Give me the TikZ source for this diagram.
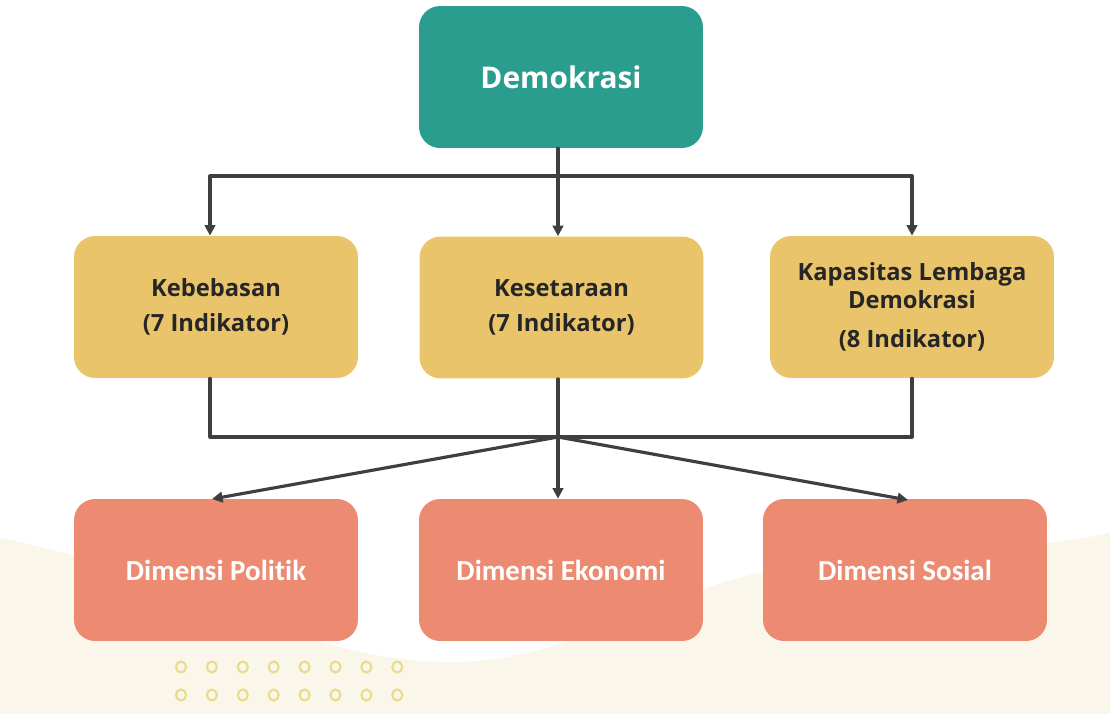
\documentclass[tikz,border=0pt]{standalone}
\usepackage{fontspec}
\setmainfont{Open Sans}
\newfontfamily\calib[Ligatures=NoCommon]{Carlito}
\usetikzlibrary{arrows.meta}
\definecolor{teal}{HTML}{2A9D8F}
\definecolor{sand}{HTML}{E9C46A}
\definecolor{salmon}{HTML}{EC8A72}
\definecolor{cream}{HTML}{FBF6EA}
\definecolor{dotc}{HTML}{E8DC8E}
\definecolor{linec}{HTML}{3F3F3F}
\definecolor{txt}{HTML}{262626}
\tikzset{
  box/.style={rectangle, rounded corners=12pt, minimum width=5.68cm, minimum height=2.84cm, inner sep=0pt, align=center},
  topbox/.style={box, fill=teal, text=white, font=\fontsize{17}{20}\selectfont\bfseries},
  midbox/.style={box, fill=sand, text=txt, font=\fontsize{13.5}{16}\selectfont\bfseries},
  lowbox/.style={box, fill=salmon, text=white, font=\calib\fontsize{16.5}{19}\selectfont\bfseries},
  conn/.style={draw=linec, line width=1.8pt, line cap=round, line join=round},
  arr/.style={conn, -{Triangle[length=6pt,width=6pt]}},
  ring/.style={draw=dotc, line width=1.2pt}
}
\begin{document}
\begin{tikzpicture}[x=0.02cm,y=-0.02cm]
\useasboundingbox (0,0) rectangle (1110,714);
% background decoration
\fill[cream] (0,538) .. controls (180,572) and (300,662) .. (450,662)
  .. controls (570,662) and (650,596) .. (763,572)
  .. controls (900,545) and (1000,556) .. (1110,533) -- (1110,714) -- (0,714) -- cycle;
\foreach \i in {0,...,7}{
  \draw[ring] (181+30.9*\i,667) ellipse (5 and 5.5);
  \draw[ring] (181+30.9*\i,695) ellipse (5 and 5.5);
}
% nodes
\node[topbox] (dem) at (561,77) {Demokrasi};
\node[midbox] (keb) at (216,307) {Kebebasan\\[4pt](7 Indikator)};
\node[midbox] (kes) at (561.5,307.5) {Kesetaraan\\[4pt](7 Indikator)};
\node[midbox] (kap) at (912,307) {Kapasitas Lembaga\\Demokrasi\\[6pt](8 Indikator)};
\node[lowbox] (pol) at (216,570) {Dimensi Politik};
\node[lowbox] (eko) at (561,570) {Dimensi Ekonomi};
\node[lowbox] (sos) at (905,570) {Dimensi Sosial};
% junctions
\coordinate (j1) at (558,176);
\coordinate (a1) at (210,176);
\coordinate (a3) at (912,176);
\coordinate (j2) at (558,437);
\coordinate (b1) at (210,437);
\coordinate (b3) at (912,437);
\coordinate (t1) at (212,499);
\coordinate (t3) at (908,500);
% top connectors
\draw[conn] (dem.south -| j1) -- (j1);
\draw[conn] (a1) -- (a3);
\draw[arr] (a1) -- (a1 |- keb.north);
\draw[arr] (j1) -- (j1 |- kes.north);
\draw[arr] (a3) -- (a3 |- kap.north);
% middle connectors
\draw[conn] (b1 |- keb.south) -- (b1) -- (b3) -- (b3 |- kap.south);
\draw[conn] (j2 |- kes.south) -- (j2);
% bottom arrows
\draw[arr] (j2) -- (t1);
\draw[arr] (j2) -- (j2 |- eko.north);
\draw[arr] (j2) -- (t3);
\end{tikzpicture}
\end{document}
